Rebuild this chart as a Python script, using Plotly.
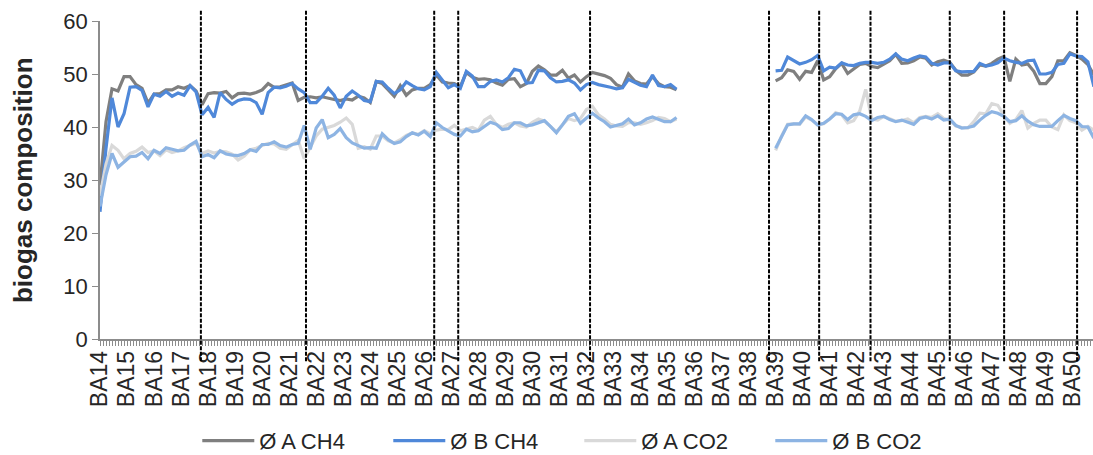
import plotly.graph_objects as go

# Week labels on the category axis (one label every 9 sampling days)
week_labels = ["BA14", "BA15", "BA16", "BA17", "BA18", "BA19", "BA20", "BA21", "BA22",
               "BA23", "BA24", "BA25", "BA26", "BA27", "BA28", "BA29", "BA30", "BA31",
               "BA32", "BA33", "BA34", "BA35", "BA36", "BA37", "BA38", "BA39", "BA40",
               "BA41", "BA42", "BA43", "BA44", "BA45", "BA46", "BA47", "BA48", "BA49",
               "BA50"]
label_days = [9 * k for k in range(len(week_labels))]

# Sampling days of the two measurement campaigns
days_1 = list(range(0, 193, 2))
days_2 = list(range(225, 332, 2))

# Days with a change in operation (dashed markers)
event_days = [33.6, 68.6, 111.3, 119.3, 163.2, 222.8, 239.5, 256.6, 283.0, 301.1, 325.4]

# ---- campaign 1 ----
a_ch4_1 = [29, 41, 47.2, 46.8, 49.5, 49.5, 48, 47.3, 44.5, 46.2,
           46.3, 47, 47, 47.6, 47.3, 47.8, 46.8, 44.2, 46.3, 46.5,
           46.4, 46.7, 45.5, 46.3, 46.4, 46.2, 46.5, 47, 48.2, 47.5,
           47.6, 47.9, 48.3, 45, 45.6, 45.7, 45.5, 45.7, 45.4, 45.2,
           45, 45.3, 45.1, 45.8, 45.5, 44.6, 48.6, 48.2, 47, 45.8,
           47.8, 46, 47, 47.3, 47.3, 48, 49.8, 48.5, 48.3, 48.2,
           47.6, 50.3, 49.4, 49, 49.1, 48.9, 48.3, 47.9, 49, 49.1,
           47.6, 48.2, 50.5, 51.5, 50.8, 49.8, 49.8, 50.7, 49.2, 49.8,
           48.5, 49.5, 50.3, 50, 49.7, 49.2, 48, 47.5, 50, 48.7,
           48.2, 48.1, 49.5, 48.2, 47.6, 47.5, 47]
b_ch4_1 = [24, 36, 45.5, 40, 42.5, 47.5, 47.6, 46.9, 43.8, 46.2,
           45.8, 46.7, 45.8, 46.4, 46, 47.8, 46.6, 42.3, 43.7, 41.8,
           46.5, 45.2, 44.3, 45, 45.3, 45.2, 44.6, 42.4, 46.5, 47.5,
           47.4, 47.7, 48.2, 47.2, 46.5, 44.6, 44.6, 45.8, 47.3, 46,
           43.6, 45.8, 46.8, 46, 45, 44.8, 48.6, 48.5, 47.3, 46.3,
           47, 48.5, 47.8, 47.2, 47, 47.6, 50.3, 48.8, 47.4, 48,
           47.3, 50.5, 49.6, 47.6, 47.6, 48.6, 48.9, 48.5, 49.3, 50.9,
           50.6, 48.3, 48.4, 50.7, 50.6, 49.3, 48.5, 48.6, 48.9, 48.3,
           47, 48, 48.4, 48, 47.8, 47.5, 47.2, 47.4, 49, 48.4,
           47.9, 47.6, 49.8, 47.8, 47.6, 48, 47.1]
a_co2_1 = [27, 33, 36.5, 35.6, 34, 35, 35.4, 36.2, 35.2, 35.5,
           34.6, 35.7, 35.2, 35.5, 36.1, 36.6, 37, 35, 35.5, 35.1,
           35.4, 35.3, 34.9, 33.8, 34.5, 35.7, 36, 36.5, 36.9, 36.8,
           36, 35.8, 36.7, 37.5, 34, 36.2, 38.3, 39.6, 39.9, 40.3,
           40.9, 41.7, 40.5, 36, 36.3, 35.8, 38.3, 38.3, 37.4, 37,
           37.6, 38.4, 38.9, 38.6, 39.3, 38.7, 39.4, 39.6, 39.5, 40.3,
           39.3, 39.6, 39.9, 39.4, 41.3, 42, 40.5, 39.9, 40.5, 40.8,
           40.2, 40, 40.9, 41.5, 41.1, 40.1, 39.1, 40.4, 41.6, 41.2,
           41.6, 43.3, 43.9, 42.3, 41.5, 40.5, 40.2, 40.1, 40.8, 40.8,
           40.5, 40.8, 41.2, 41.8, 41.6, 41, 41.5]
b_co2_1 = [25, 31, 35, 32.4, 33.4, 34.4, 34.5, 35.2, 34, 35.6,
           35, 36.1, 35.8, 35.5, 35.6, 36.6, 37.3, 34.4, 34.8, 34.2,
           35.5, 34.9, 34.7, 34.6, 35, 35.7, 35.4, 36.7, 36.7, 37.2,
           36.5, 36.2, 36.7, 36.9, 40.3, 35.8, 39.8, 41.4, 38, 38.6,
           39.7, 38, 37, 36.5, 36, 36.1, 36, 38.7, 37.6, 36.9,
           37.2, 38.2, 38.9, 38.5, 39.2, 38.2, 40.8, 39.9, 39.2, 38.6,
           38.3, 39.6, 39.1, 39.3, 40.1, 40.9, 40.5, 39.5, 39.7, 40.8,
           40.8, 40.2, 40.4, 40.8, 41.2, 40.1, 38.9, 40.4, 42, 42.5,
           40.7, 41.7, 42.6, 41.7, 41, 40, 40.3, 40.6, 41.5, 40.4,
           40.8, 41.5, 41.9, 41.5, 41, 41, 41.8]

# ---- campaign 2 ----
a_ch4_2 = [48.7, 49.3, 50.8, 50.5, 49, 50.5, 50.3, 52.5, 48.9, 49.5,
           51, 52, 50.1, 51, 51.8, 52, 51.4, 51.2, 51.9, 52.5,
           53.7, 52, 52.1, 52.5, 53.2, 53, 51.7, 52.3, 52.6, 52.2,
           50.7, 49.8, 49.8, 50.4, 51.7, 51.5, 52, 52.8, 53.3, 48.6,
           52.8, 51.7, 51.9, 50.5, 48.2, 48.2, 49.5, 52.5, 52.5, 54,
           53.5, 52.8, 51.8, 49.8]
b_ch4_2 = [50.6, 50.7, 53.2, 52.5, 51.9, 52.2, 52.7, 53.5, 50.6, 51.3,
           51.1, 52.1, 51.7, 51.6, 52, 52.2, 52.2, 52, 52.2, 52.8,
           53.8, 52.8, 52.5, 53, 53.4, 53.2, 52, 51.7, 52.1, 52.1,
           50.6, 50.4, 50.4, 50.5, 52, 51.5, 51.7, 52.1, 53, 52.5,
           52.2, 52, 52.5, 52.6, 50, 50, 50.3, 51.8, 52, 53.8,
           53.4, 53.3, 52.3, 47.6]
a_co2_2 = [35.6, 38.3, 40.5, 40.6, 40.5, 41.9, 41.3, 40.4, 40.6, 41.5,
           42.7, 42.3, 40.8, 41.2, 43, 47.1, 41.5, 41.3, 42, 41.6,
           41.1, 41.2, 41.5, 40.8, 41.8, 42, 41.8, 42.5, 41.6, 41.3,
           40.2, 39.9, 39.8, 41, 42.6, 42.5, 44.4, 44.1, 42.2, 40.7,
           41.4, 43.1, 39.8, 40.7, 41.3, 41.3, 40, 39.5, 42.3, 41.2,
           40.8, 39.4, 40.1, 39.4]
b_co2_2 = [36, 38.3, 40.4, 40.6, 40.6, 42.1, 41.4, 40.4, 40.7, 41.5,
           42.5, 42.4, 41.4, 42.3, 42.5, 42, 41.2, 41.8, 42, 41.4,
           41, 41.3, 40.9, 40.5, 41.6, 41.9, 41.5, 42.1, 41.3, 41.5,
           40.3, 39.8, 39.9, 40.2, 41.3, 42.2, 42.9, 42.6, 42, 41,
           41.2, 42.1, 41.1, 40.4, 40.1, 40.1, 40.1, 41.2, 42.2, 41.6,
           41.2, 40.1, 40, 37.9]

series = [
    ("Ø A CH4", a_ch4_1, a_ch4_2, "#7f7f7f"),
    ("Ø B CH4", b_ch4_1, b_ch4_2, "#4f88d9"),
    ("Ø A CO2", a_co2_1, a_co2_2, "#d9d9d9"),
    ("Ø B CO2", b_co2_1, b_co2_2, "#8db4e3"),
]

fig = go.Figure()
for name, part1, part2, color in series:
    fig.add_trace(go.Scatter(
        x=days_1 + [None] + days_2,
        y=part1 + [None] + part2,
        name=name,
        mode="lines",
        line=dict(color=color, width=3.2),
        connectgaps=False,
    ))

for d in event_days:
    fig.add_shape(type="line", xref="x", yref="paper", x0=d, x1=d, y0=-0.07, y1=1.035,
                  line=dict(color="black", width=2, dash="4px,1.5px"), layer="above")

axis_grey = "#8c8c8c"
fig.update_xaxes(
    range=[0, 330.7], showline=True, linecolor=axis_grey, linewidth=1.5,
    showgrid=False, zeroline=False,
    tickmode="array", tickvals=label_days, ticktext=week_labels,
    ticks="outside", ticklen=5, tickcolor=axis_grey, tickwidth=1,
    tickangle=-90, tickfont=dict(size=23), ticklabelstandoff=-4,
    minor=dict(ticks="outside", ticklen=5, tickcolor=axis_grey, tickwidth=1,
               tickmode="linear", tick0=0, dtick=1, showgrid=False),
)
fig.update_yaxes(
    range=[0, 60], dtick=10, showline=True, linecolor=axis_grey, linewidth=1.5,
    showgrid=False, zeroline=False, ticks="outside", ticklen=6,
    tickcolor=axis_grey, tickfont=dict(size=22),
)

fig.add_annotation(text="<b>biogas composition</b>", xref="paper", yref="paper",
                   x=-0.0775, y=0.5, textangle=-90, showarrow=False,
                   font=dict(size=26), xanchor="center", yanchor="middle")

fig.update_layout(
    width=1093, height=455,
    margin=dict(l=100, r=0, t=21, b=116),
    plot_bgcolor="white", paper_bgcolor="white",
    font=dict(family="Liberation Sans, Arial, sans-serif", color="#262626"),
    legend=dict(orientation="h", xref="container", yref="container",
                x=0.53, y=0.031, xanchor="center", yanchor="middle",
                font=dict(size=22), itemwidth=52, entrywidth=124,
                entrywidthmode="pixels", bgcolor="rgba(0,0,0,0)"),
)

fig.write_html("out.html")
